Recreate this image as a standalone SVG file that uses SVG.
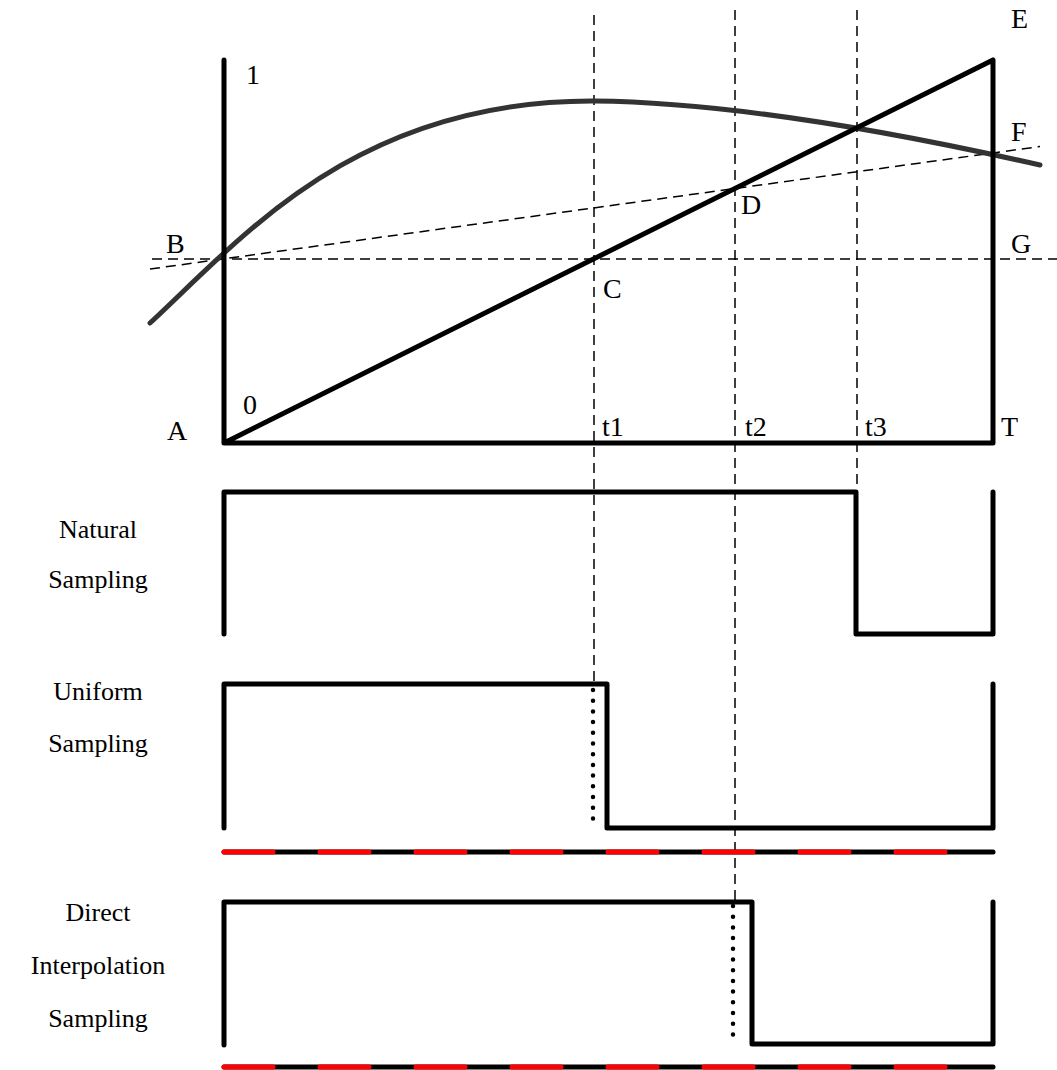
<svg xmlns="http://www.w3.org/2000/svg" width="1057" height="1070" viewBox="0 0 1057 1070">
<style>
.thick{fill:none;stroke:#000;stroke-width:5;stroke-linecap:round;stroke-linejoin:round}
.curve{fill:none;stroke:#333;stroke-width:5;stroke-linecap:round}
.dash{fill:none;stroke:#000;stroke-width:1.5;stroke-dasharray:10 6}
.dot{fill:none;stroke:#000;stroke-width:4.5;stroke-linecap:round;stroke-dasharray:0 10.7}
.red{fill:none;stroke:#ff0000;stroke-width:5;stroke-linecap:round;stroke-dasharray:49 47}
text{font-family:"Liberation Serif","Times New Roman",serif;font-size:28px;fill:#000}
.lab{font-size:26px;text-anchor:middle}
</style>
<rect width="1057" height="1070" fill="#fff"/>
<g id="connectors">
<line class="dash" x1="152" y1="259" x2="1057" y2="259"/>
<line class="dash" x1="150" y1="269" x2="1040" y2="146.5"/>
<line class="dash" x1="594" y1="15" x2="594" y2="686"/>
<line class="dash" x1="735" y1="10" x2="735" y2="903"/>
<line class="dash" x1="857" y1="10" x2="857" y2="492"/>
</g>
<g id="chart">
<path class="curve" d="M150,323 C240,240 355,100 594,101 C700,102 850,122 1040,165"/>
<path class="thick" d="M224,60 L224,443 L993,443 L993,60 M224,443 L993,60"/>
</g>
<g id="natural">
<path class="thick" d="M224,634 L224,492 L856,492 L856,634 L993,634 L993,492"/>
</g>
<g id="uniform">
<path class="thick" d="M224,828 L224,684 L607,684 L607,828 L993,828 L993,684"/>
<line class="dot" x1="593" y1="690" x2="593" y2="828"/>
<line class="thick" x1="224" y1="852" x2="993" y2="852"/>
<line class="red" x1="224" y1="852" x2="950" y2="852"/>
</g>
<g id="direct">
<path class="thick" d="M224,1045 L224,902 L752,902 L752,1044 L993,1044 L993,902"/>
<line class="dot" x1="733" y1="906" x2="733" y2="1044"/>
<line class="thick" x1="224" y1="1067" x2="993" y2="1067"/>
<line class="red" x1="224" y1="1067" x2="950" y2="1067"/>
</g>
<g id="labels">
<text x="246" y="84">1</text>
<text x="1011" y="28">E</text>
<text x="1011" y="141">F</text>
<text x="1011" y="253">G</text>
<text x="166" y="253">B</text>
<text x="741" y="214">D</text>
<text x="603" y="298">C</text>
<text x="243" y="414">0</text>
<text x="167" y="440">A</text>
<text x="602" y="436">t1</text>
<text x="745" y="436">t2</text>
<text x="865" y="436">t3</text>
<text x="1001" y="436">T</text>
<text class="lab" x="98" y="538">Natural</text>
<text class="lab" x="98" y="588">Sampling</text>
<text class="lab" x="98" y="700">Uniform</text>
<text class="lab" x="98" y="752">Sampling</text>
<text class="lab" x="98" y="921">Direct</text>
<text class="lab" x="98" y="974">Interpolation</text>
<text class="lab" x="98" y="1027">Sampling</text>
</g>
</svg>
